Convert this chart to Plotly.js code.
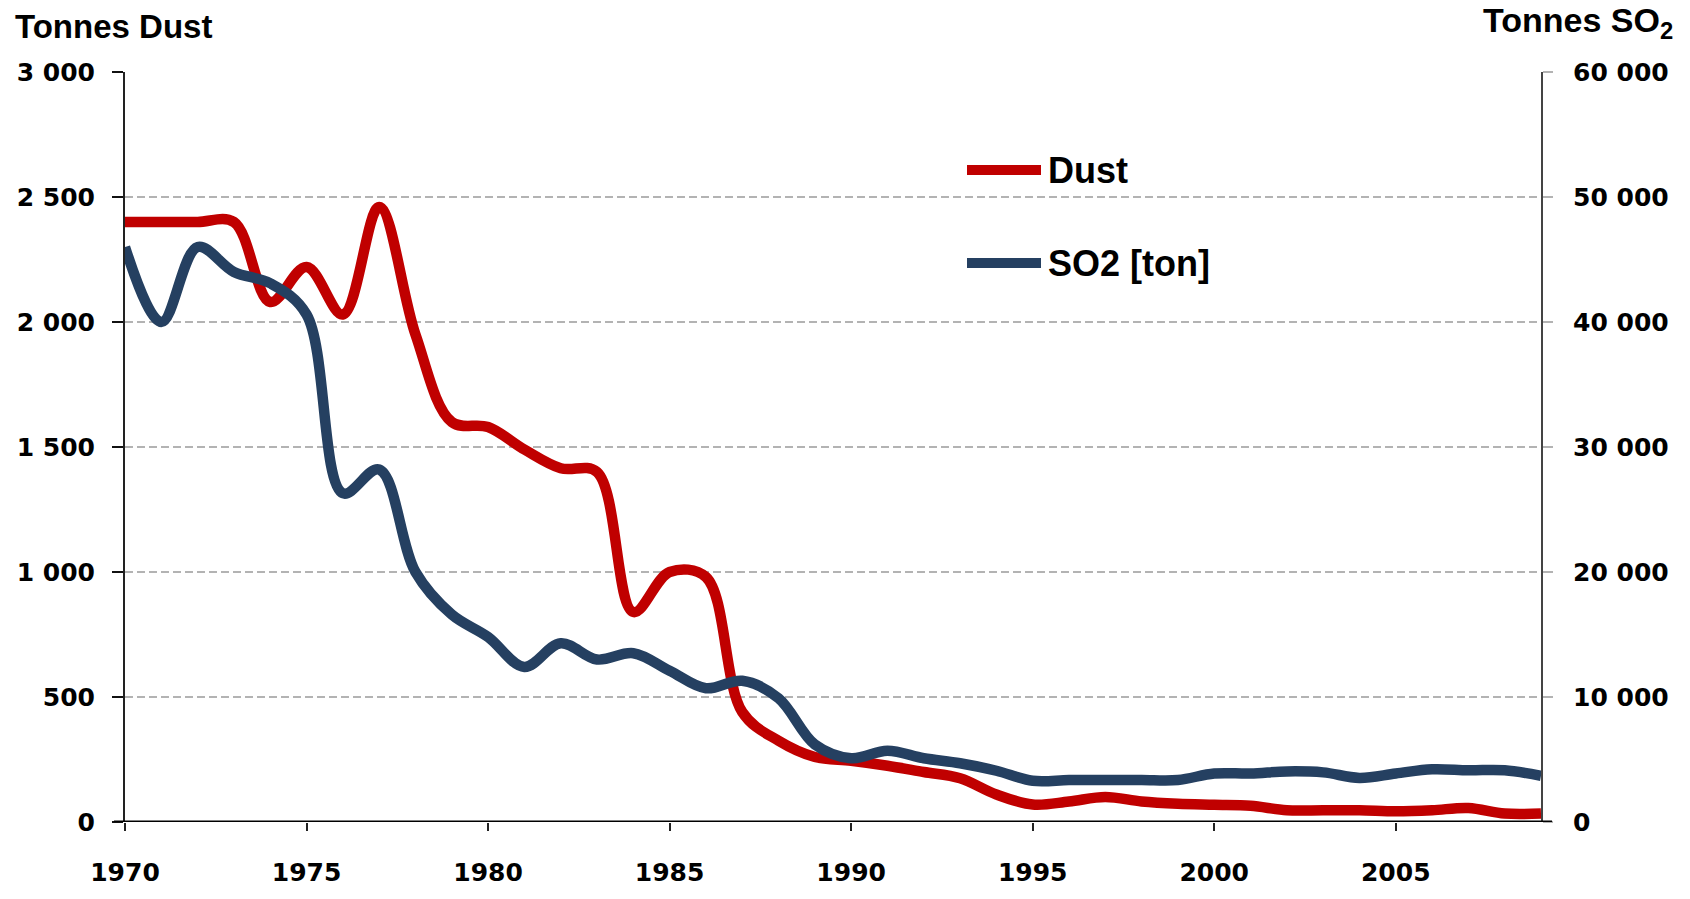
<!DOCTYPE html>
<html>
<head>
<meta charset="utf-8">
<script src="https://cdn.plot.ly/plotly-3.0.1.min.js"></script>
<style>
html,body{margin:0;padding:0;background:#fff;}
#chart{width:1690px;height:899px;}
</style>
</head>
<body>
<div id="chart"></div>
<script>
// ---- data ----
const years = [1970,1971,1972,1973,1974,1975,1976,1977,1978,1979,
               1980,1981,1982,1983,1984,1985,1986,1987,1988,1989,
               1990,1991,1992,1993,1994,1995,1996,1997,1998,1999,
               2000,2001,2002,2003,2004,2005,2006,2007,2008,2009];
const dust = [2400,2400,2400,2400,2080,2220,2030,2460,1950,1600,
              1580,1490,1415,1400,840,1000,980,440,325,260,
              245,225,200,175,110,70,82,100,82,73,
              69,65,47,47,47,43,47,56,34,34];
const so2 = [46000,40000,46000,44000,43100,40600,26300,28200,20000,16600,
             14800,12400,14300,13000,13500,12100,10700,11300,9900,6200,
             5100,5700,5100,4700,4100,3300,3360,3360,3360,3360,
             3880,3880,4050,3970,3530,3880,4220,4140,4140,3700];
const xTicks = [1970,1975,1980,1985,1990,1995,2000,2005];
const dustTicks = [0,500,1000,1500,2000,2500,3000];
const dustTickText = ["0","500","1 000","1 500","2 000","2 500","3 000"];
const so2Ticks = [0,10000,20000,30000,40000,50000,60000];
const so2TickText = ["0","10 000","20 000","30 000","40 000","50 000","60 000"];
const seriesNames = ["Dust","SO2 [ton]"];
const axisTitles = ["Tonnes Dust","Tonnes SO<sub>2</sub>"];

// ---- styling ----
const RED = "#C00000", BLUE = "#254061";
const tickFont = {family:"DejaVu Sans", size:25, color:"#000", weight:"bold"};
const L = 125, R = 1541, T = 72, B = 822;
const px = x => (x - L) / (R - L);
const py = y => (B - y) / (B - T);

const traces = [
  {x: years, y: dust, name: seriesNames[0], type: "scatter", mode: "lines",
   line: {color: RED, width: 10.5, shape: "spline", smoothing: 1}, yaxis: "y", xaxis: "x"},
  {x: years, y: so2, name: seriesNames[1], type: "scatter", mode: "lines",
   line: {color: BLUE, width: 10.5, shape: "spline", smoothing: 1}, yaxis: "y2", xaxis: "x"}
];

const layout = {
  width: 1690, height: 899, autosize: false,
  margin: {l: L, r: 1690 - R, t: T, b: 899 - B, pad: 0},
  paper_bgcolor: "#fff", plot_bgcolor: "#fff",
  showlegend: false,
  xaxis: {
    range: [1970, 2009], tickvals: xTicks, ticktext: xTicks.map(String),
    ticks: "outside", ticklen: 8, tickwidth: 2, tickcolor: "#222",
    tickfont: tickFont, ticklabelstandoff: 20,
    showgrid: false, zeroline: false, showline: false
  },
  xaxis2: {
    overlaying: "x", anchor: "y", side: "bottom",
    range: [1970, 2009], tickvals: xTicks,
    ticks: "inside", ticklen: 11, tickwidth: 2, tickcolor: "#222",
    showticklabels: false, showgrid: false, zeroline: false, showline: false
  },
  yaxis: {
    range: [0, 3000], tickvals: dustTicks, ticktext: dustTickText,
    ticks: "outside", ticklen: 11, tickwidth: 2, tickcolor: "#111",
    tickfont: tickFont, ticklabelstandoff: 12,
    showgrid: true, gridcolor: "#b3b3b3", gridwidth: 2, griddash: "8px,4px",
    zeroline: false, showline: true, linecolor: "#222", linewidth: 2
  },
  yaxis3: {
    overlaying: "y", anchor: "x", side: "left",
    range: [0, 3000], tickvals: dustTicks,
    ticks: "inside", ticklen: 11, tickwidth: 2, tickcolor: "#111",
    showticklabels: false, showgrid: false, zeroline: false, showline: false
  },
  yaxis2: {
    overlaying: "y", side: "right", anchor: "x",
    range: [0, 60000], tickvals: so2Ticks, ticktext: so2TickText,
    ticks: "outside", ticklen: 10, tickwidth: 2, tickcolor: "#b3b3b3",
    tickfont: tickFont, ticklabelstandoff: 15,
    showgrid: false, zeroline: false, showline: true, linecolor: "#444", linewidth: 2
  },
  shapes: [
    {type: "line", xref: "paper", yref: "y", x0: px(114), x1: px(1552), y0: 0, y1: 0,
     line: {color: "#000", width: 3}, layer: "above"},
    {type: "line", xref: "paper", yref: "paper", x0: px(967), x1: px(1041), y0: py(170), y1: py(170),
     line: {color: RED, width: 10}},
    {type: "line", xref: "paper", yref: "paper", x0: px(967), x1: px(1041), y0: py(263), y1: py(263),
     line: {color: BLUE, width: 10}}
  ],
  annotations: [
    {text: axisTitles[0], xref: "paper", yref: "paper", x: px(13), y: py(27),
     xanchor: "left", yanchor: "middle", showarrow: false,
     font: {family: "Liberation Sans", size: 33, color: "#000", weight: "bold"}},
    {text: axisTitles[1], xref: "paper", yref: "paper", x: px(1675), y: py(22),
     xanchor: "right", yanchor: "middle", showarrow: false,
     font: {family: "Liberation Sans", size: 34, color: "#000", weight: "bold"}},
    {text: seriesNames[0], xref: "paper", yref: "paper", x: px(1046), y: py(170),
     xanchor: "left", yanchor: "middle", showarrow: false,
     font: {family: "Liberation Sans", size: 36, color: "#000", weight: "bold"}},
    {text: seriesNames[1], xref: "paper", yref: "paper", x: px(1046), y: py(263),
     xanchor: "left", yanchor: "middle", showarrow: false,
     font: {family: "Liberation Sans", size: 36, color: "#000", weight: "bold"}}
  ]
};

Plotly.newPlot("chart", traces, layout, {displayModeBar: false, staticPlot: true});
</script>
</body>
</html>
